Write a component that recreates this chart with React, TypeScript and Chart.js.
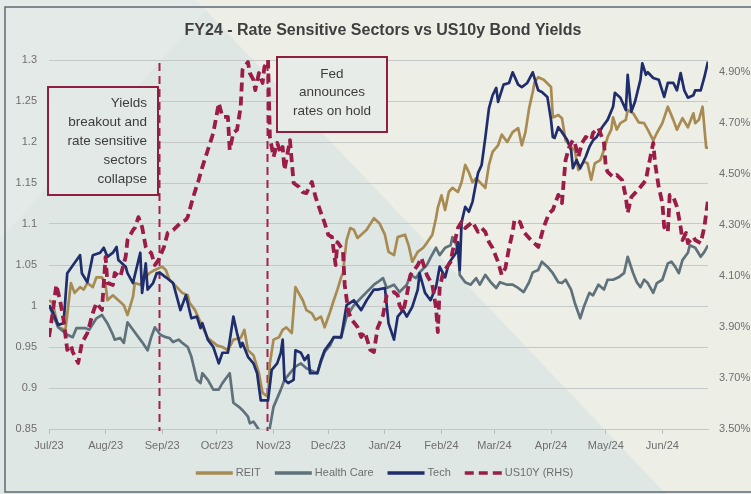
import React, { useEffect, useRef } from 'react';
import { Chart, registerables } from 'chart.js';

Chart.register(...registerables);

const TITLE = 'FY24 - Rate Sensitive Sectors vs US10y Bond Yields';

// x positions are days since 1 Jul 2023
const MONTH_DAYS = [0, 31, 62, 92, 123, 153, 184, 215, 244, 275, 305, 336];
const MONTH_LABELS = ['Jul/23', 'Aug/23', 'Sep/23', 'Oct/23', 'Nov/23', 'Dec/23', 'Jan/24', 'Feb/24', 'Mar/24', 'Apr/24', 'May/24', 'Jun/24'];
const LEFT_TICKS = [0.85, 0.9, 0.95, 1, 1.05, 1.1, 1.15, 1.2, 1.25, 1.3];
const RIGHT_TICKS = [3.5, 3.7, 3.9, 4.1, 4.3, 4.5, 4.7, 4.9];
const EVENT_DAYS = [60.5, 119.5];
const NOTE_1 = ['Yields', 'breakout and', 'rate sensitive', 'sectors', 'collapse'];
const NOTE_2 = ['Fed', 'announces', 'rates on hold'];

const REIT: [number, number][] = [
  [0, 1.007], [2, 1.004], [5, 0.974], [9, 0.971], [12, 1.028], [14, 1.016], [17, 1.023], [19, 1.02], [21, 1.028], [24, 1.023],
  [26, 1.035], [29, 1.035], [31, 1.026], [32, 1.007], [35, 1.013], [38, 1.007], [41, 1.001], [43, 0.989], [46, 1.011], [47, 1.028],
  [50, 1.026], [53, 1.035], [55, 1.04], [58, 1.044], [62, 1.048], [64, 1.044], [66, 1.032], [70, 1.023], [73, 1.016], [76, 1.013],
  [77, 1.004], [80, 0.995], [83, 0.98], [87, 0.961], [92, 0.952], [95, 0.95], [98, 0.946], [101, 0.959], [105, 0.961], [107, 0.971],
  [109, 0.946], [112, 0.94], [115, 0.918], [117, 0.894], [120, 0.889], [121, 0.93], [123, 0.959], [126, 0.962], [128, 0.971], [130, 0.974],
  [133, 0.967], [135, 1.023], [138, 1.011], [139, 1.007], [141, 0.995], [144, 0.991], [146, 0.983], [149, 0.987], [151, 0.974], [154, 0.993],
  [156, 1.007], [158, 1.02], [160, 1.035], [161, 1.04], [163, 1.08], [165, 1.095], [167, 1.093], [169, 1.083], [171, 1.087], [174, 1.093],
  [178, 1.107], [181, 1.101], [184, 1.087], [186, 1.066], [189, 1.062], [191, 1.084], [195, 1.087], [197, 1.074], [199, 1.054], [201, 1.062],
  [202, 1.066], [205, 1.071], [207, 1.077], [210, 1.087], [212, 1.107], [213, 1.12], [215, 1.135], [217, 1.117], [219, 1.139], [221, 1.144],
  [224, 1.139], [226, 1.151], [228, 1.172], [230, 1.163], [232, 1.151], [234, 1.156], [236, 1.151], [239, 1.144], [241, 1.172], [243, 1.188],
  [246, 1.196], [248, 1.209], [251, 1.2], [254, 1.212], [257, 1.217], [259, 1.196], [261, 1.212], [263, 1.241], [265, 1.261], [266, 1.273],
  [268, 1.279], [271, 1.276], [275, 1.267], [276, 1.23], [279, 1.233], [281, 1.229], [283, 1.202], [286, 1.194], [288, 1.19], [290, 1.166],
  [293, 1.176], [295, 1.174], [297, 1.154], [299, 1.174], [302, 1.178], [304, 1.19], [306, 1.206], [308, 1.215], [309, 1.23], [311, 1.215],
  [313, 1.223], [316, 1.227], [317, 1.239], [320, 1.235], [323, 1.224], [326, 1.223], [328, 1.215], [331, 1.202], [333, 1.211], [336, 1.223],
  [339, 1.243], [342, 1.227], [344, 1.215], [347, 1.229], [350, 1.218], [353, 1.235], [354, 1.223], [356, 1.227], [358, 1.243], [360, 1.193],
  [361, 1.193],
];

const HEALTH_CARE: [number, number][] = [
  [0, 1.001], [5, 0.974], [10, 0.965], [13, 0.962], [15, 0.973], [20, 0.973], [22, 0.971], [26, 0.985], [29, 0.989], [32, 0.979],
  [35, 0.965], [36, 0.959], [39, 0.961], [41, 0.955], [43, 0.98], [46, 0.971], [48, 0.965], [51, 0.956], [54, 0.946], [56, 0.962],
  [58, 0.974], [61, 0.965], [64, 0.962], [66, 0.961], [68, 0.956], [71, 0.959], [73, 0.955], [76, 0.95], [78, 0.938], [81, 0.91],
  [83, 0.906], [84, 0.918], [87, 0.91], [90, 0.898], [93, 0.898], [95, 0.906], [99, 0.918], [101, 0.882], [104, 0.877], [106, 0.873],
  [109, 0.865], [110, 0.857], [112, 0.859], [115, 0.849], [117, 0.835], [120, 0.838], [121, 0.852], [123, 0.877], [127, 0.898], [129, 0.91],
  [132, 0.918], [135, 0.926], [138, 0.93], [141, 0.924], [143, 0.922], [147, 0.918], [149, 0.932], [151, 0.944], [154, 0.952], [156, 0.962],
  [160, 0.961], [163, 0.987], [167, 1.001], [171, 1.01], [174, 1.017], [178, 1.026], [180, 1.029], [183, 1.034], [185, 1.022], [189, 1.026],
  [192, 1.017], [196, 1.026], [198, 1.038], [201, 1.034], [203, 1.041], [207, 1.05], [209, 1.059], [212, 1.071], [214, 1.062], [217, 1.071],
  [220, 1.074], [221, 1.084], [224, 1.071], [225, 1.038], [228, 1.029], [231, 1.026], [234, 1.034], [236, 1.026], [239, 1.038], [242, 1.029],
  [245, 1.022], [247, 1.029], [251, 1.026], [254, 1.026], [257, 1.022], [260, 1.017], [263, 1.029], [265, 1.041], [268, 1.044], [270, 1.054],
  [273, 1.048], [276, 1.04], [279, 1.029], [281, 1.028], [283, 1.032], [286, 1.02], [288, 1.004], [291, 0.985], [293, 0.999], [296, 1.016],
  [298, 1.013], [301, 1.026], [304, 1.02], [306, 1.032], [309, 1.032], [312, 1.035], [315, 1.04], [317, 1.06], [320, 1.04], [322, 1.029],
  [324, 1.023], [326, 1.032], [328, 1.028], [331, 1.016], [333, 1.028], [336, 1.032], [339, 1.052], [341, 1.054], [343, 1.048], [345, 1.04],
  [347, 1.056], [350, 1.065], [351, 1.074], [354, 1.071], [357, 1.06], [359, 1.066], [361, 1.074],
];

const TECH: [number, number][] = [
  [0, 1.001], [2, 0.993], [5, 0.977], [8, 0.979], [10, 1.04], [17, 1.062], [18, 1.04], [21, 1.029], [24, 1.062], [28, 1.065],
  [30, 1.071], [32, 1.06], [35, 1.065], [37, 1.072], [38, 1.056], [42, 1.048], [43, 1.04], [46, 1.028], [50, 1.065], [51, 1.016],
  [53, 1.052], [54, 1.02], [57, 1.028], [59, 1.04], [61, 1.04], [64, 1.035], [68, 1.028], [72, 0.995], [75, 1.013], [78, 0.985],
  [81, 0.987], [83, 0.973], [84, 0.979], [87, 0.959], [90, 0.95], [93, 0.93], [95, 0.943], [98, 0.943], [101, 0.987], [103, 0.967],
  [105, 0.95], [106, 0.955], [109, 0.938], [112, 0.93], [114, 0.918], [116, 0.885], [117, 0.885], [120, 0.885], [122, 0.922], [125, 0.93],
  [127, 0.943], [128, 0.959], [129, 0.91], [131, 0.906], [134, 0.91], [135, 0.946], [138, 0.943], [140, 0.934], [142, 0.94], [143, 0.918],
  [147, 0.918], [149, 0.934], [151, 0.946], [154, 0.955], [156, 0.962], [160, 0.962], [161, 0.974], [163, 1.001], [167, 1.007], [171, 0.995],
  [174, 1.007], [178, 1.02], [180, 1.02], [184, 1.022], [186, 0.979], [189, 0.959], [191, 0.987], [194, 0.995], [196, 0.987], [199, 0.999],
  [202, 1.02], [203, 1.04], [206, 1.016], [209, 1.007], [212, 1.023], [214, 1.048], [217, 1.035], [219, 1.052], [223, 1.065], [224, 1.078],
  [225, 1.044], [226, 1.102], [228, 1.121], [230, 1.115], [232, 1.127], [234, 1.151], [235, 1.162], [237, 1.172], [239, 1.205], [241, 1.241],
  [243, 1.257], [245, 1.266], [246, 1.249], [249, 1.27], [252, 1.272], [254, 1.285], [257, 1.27], [259, 1.267], [262, 1.272], [265, 1.285],
  [268, 1.263], [270, 1.261], [273, 1.255], [275, 1.227], [276, 1.206], [277, 1.205], [279, 1.218], [281, 1.212], [284, 1.202], [286, 1.19],
  [287, 1.168], [289, 1.178], [291, 1.168], [294, 1.182], [296, 1.194], [298, 1.202], [300, 1.206], [303, 1.218], [306, 1.227], [309, 1.243],
  [310, 1.26], [313, 1.254], [316, 1.239], [317, 1.282], [319, 1.237], [321, 1.249], [324, 1.276], [325, 1.296], [327, 1.282], [328, 1.285],
  [331, 1.278], [334, 1.276], [337, 1.255], [339, 1.272], [342, 1.272], [344, 1.263], [346, 1.284], [348, 1.263], [350, 1.254], [353, 1.257],
  [354, 1.263], [357, 1.263], [359, 1.279], [361, 1.298],
];

const US10Y: [number, number][] = [
  [0, 3.861], [2, 3.955], [4, 4.065], [6, 4.006], [8, 3.927], [10, 3.81], [12, 3.829], [13, 3.802], [16, 3.759], [18, 3.837],
  [21, 3.876], [24, 3.955], [26, 3.994], [29, 3.967], [31, 4.175], [32, 4.073], [35, 4.065], [36, 4.112], [39, 4.096], [42, 4.175],
  [43, 4.241], [46, 4.28], [47, 4.288], [49, 4.331], [51, 4.292], [53, 4.214], [54, 4.202], [56, 4.19], [58, 4.143], [60, 4.163],
  [63, 4.214], [65, 4.269], [68, 4.28], [72, 4.308], [75, 4.32], [76, 4.331], [79, 4.41], [82, 4.476], [84, 4.527], [87, 4.594],
  [90, 4.661], [93, 4.778], [95, 4.724], [98, 4.724], [99, 4.594], [101, 4.661], [103, 4.673], [105, 4.763], [106, 4.908], [109, 4.939],
  [110, 4.896], [112, 4.869], [113, 4.829], [115, 4.896], [117, 4.857], [118, 4.92], [120, 4.947], [121, 4.645], [123, 4.567], [125, 4.622],
  [127, 4.582], [128, 4.606], [129, 4.516], [132, 4.633], [134, 4.465], [137, 4.449], [139, 4.429], [141, 4.425], [144, 4.469], [146, 4.41],
  [149, 4.347], [151, 4.308], [153, 4.261], [155, 4.253], [157, 4.143], [158, 4.233], [161, 4.202], [162, 4.065], [164, 3.959], [166, 3.927],
  [169, 3.9], [171, 3.861], [173, 3.88], [176, 3.81], [178, 3.802], [180, 3.896], [183, 3.947], [185, 4.025], [189, 4.037], [191, 4.025],
  [192, 3.986], [194, 3.959], [196, 4.025], [198, 4.104], [202, 4.143], [204, 4.171], [207, 4.104], [210, 4.065], [212, 3.975], [213, 3.88],
  [214, 4.053], [216, 4.116], [220, 4.155], [221, 4.194], [224, 4.288], [226, 4.312], [228, 4.288], [230, 4.3], [232, 4.312], [235, 4.273],
  [237, 4.288], [239, 4.273], [241, 4.233], [243, 4.21], [246, 4.155], [248, 4.104], [250, 4.131], [252, 4.21], [254, 4.273], [255, 4.32],
  [258, 4.312], [260, 4.273], [264, 4.241], [268, 4.214], [271, 4.292], [274, 4.347], [276, 4.359], [279, 4.418], [281, 4.386], [282, 4.476],
  [283, 4.555], [285, 4.606], [287, 4.633], [288, 4.622], [290, 4.567], [292, 4.622], [294, 4.645], [297, 4.633], [298, 4.661], [301, 4.68],
  [304, 4.622], [305, 4.527], [306, 4.508], [309, 4.488], [311, 4.496], [314, 4.476], [316, 4.41], [317, 4.347], [319, 4.41], [321, 4.425],
  [324, 4.449], [327, 4.476], [328, 4.516], [331, 4.622], [332, 4.543], [334, 4.449], [336, 4.386], [337, 4.292], [339, 4.273], [340, 4.418],
  [342, 4.41], [344, 4.371], [346, 4.292], [347, 4.241], [349, 4.269], [350, 4.229], [353, 4.253], [354, 4.241], [357, 4.229], [359, 4.292],
  [361, 4.398],
];

const FONT = "'Liberation Sans', Arial, sans-serif";
const TICK_COLOR = '#6e6e6e';

const decorPlugin = {
  id: 'decor',
  beforeDraw(chart: any) {
    const { ctx, width, height } = chart;
    ctx.save();
    ctx.fillStyle = '#dfe7e5';
    ctx.fillRect(0, 0, width, height);
    ctx.fillStyle = '#e4eae7';
    ctx.beginPath();
    ctx.moveTo(0, 0);
    ctx.lineTo(215, 0);
    ctx.lineTo(0, 240);
    ctx.closePath();
    ctx.fill();
    ctx.fillStyle = '#edeee6';
    ctx.beginPath();
    ctx.moveTo(196, 0);
    ctx.lineTo(width, 0);
    ctx.lineTo(width, height);
    ctx.lineTo(666, height);
    ctx.closePath();
    ctx.fill();
    ctx.strokeStyle = '#5b6b74';
    ctx.lineWidth = 1.5;
    ctx.beginPath();
    ctx.moveTo(width, 7);
    ctx.lineTo(5, 7);
    ctx.lineTo(5, 492);
    ctx.lineTo(width, 492);
    ctx.stroke();
    ctx.fillStyle = '#3f3f3f';
    ctx.font = `bold 16px ${FONT}`;
    ctx.textAlign = 'center';
    ctx.textBaseline = 'middle';
    ctx.fillText(TITLE, 383, 31);
    ctx.restore();
  },
  beforeDatasetsDraw(chart: any) {
    const { ctx } = chart;
    const xs = chart.scales.x;
    ctx.save();
    ctx.strokeStyle = '#a0234b';
    ctx.lineWidth = 2;
    ctx.setLineDash([8, 5]);
    EVENT_DAYS.forEach((d) => {
      const px = Math.round(xs.getPixelForValue(d)) + 0.5;
      ctx.beginPath();
      ctx.moveTo(px, chart.chartArea.top + 3);
      ctx.lineTo(px, chart.chartArea.bottom + 2);
      ctx.stroke();
    });
    ctx.restore();
  },
  afterDatasetsDraw(chart: any) {
    const { ctx } = chart;
    ctx.save();
    const drawBox = (x: number, y: number, w: number, h: number, fill: string) => {
      ctx.fillStyle = fill;
      ctx.fillRect(x, y, w, h);
      ctx.strokeStyle = '#8e1f3f';
      ctx.lineWidth = 2;
      ctx.setLineDash([]);
      ctx.strokeRect(x, y, w, h);
    };
    drawBox(48, 87, 110, 108, '#e3e9e7');
    drawBox(277, 57, 110, 75, '#e8ece8');
    ctx.fillStyle = '#3c3c3c';
    ctx.font = `13.5px ${FONT}`;
    ctx.textBaseline = 'middle';
    ctx.textAlign = 'right';
    NOTE_1.forEach((t, i) => ctx.fillText(t, 147, 103 + i * 19));
    ctx.textAlign = 'center';
    NOTE_2.forEach((t, i) => ctx.fillText(t, 332, 74 + i * 18.5));
    ctx.restore();
  },
  afterDraw(chart: any) {
    const { ctx } = chart;
    const ds = chart.data.datasets;
    ctx.save();
    ctx.font = `11px ${FONT}`;
    ctx.textBaseline = 'middle';
    ctx.textAlign = 'left';
    const lineLen = 37;
    const gapText = 3;
    const gapItem = 14;
    const widths = ds.map((d: any) => ctx.measureText(d.label).width);
    const total = widths.reduce((a: number, w: number) => a + lineLen + gapText + w, 0) + gapItem * (ds.length - 1);
    let x = 384.5 - total / 2;
    const y = 473;
    ds.forEach((d: any, i: number) => {
      ctx.strokeStyle = d.borderColor;
      ctx.lineWidth = 3.5;
      ctx.setLineDash(d.borderDash ? [9, 5] : []);
      ctx.beginPath();
      ctx.moveTo(x, y);
      ctx.lineTo(x + lineLen, y);
      ctx.stroke();
      ctx.setLineDash([]);
      ctx.fillStyle = TICK_COLOR;
      ctx.fillText(d.label, x + lineLen + gapText, y);
      x += lineLen + gapText + widths[i] + gapItem;
    });
    ctx.restore();
  },
};

const toXY = (pts: [number, number][]) => pts.map(([x, y]) => ({ x, y }));

export default function App() {
  const ref = useRef<HTMLCanvasElement | null>(null);

  useEffect(() => {
    document.body.style.margin = '0';
    if (!ref.current) return;
    const common = { pointRadius: 0, pointHoverRadius: 0, tension: 0, fill: false, borderJoinStyle: 'round' as const };
    const chart = new Chart(ref.current, {
      type: 'line',
      data: {
        datasets: [
          { ...common, label: 'REIT', data: toXY(REIT), borderColor: '#a88b52', borderWidth: 2.7, yAxisID: 'y', order: 3 },
          { ...common, label: 'Health Care', data: toXY(HEALTH_CARE), borderColor: '#5f717a', borderWidth: 2.7, yAxisID: 'y', order: 2 },
          { ...common, label: 'Tech', data: toXY(TECH), borderColor: '#1f2d6c', borderWidth: 2.7, yAxisID: 'y', order: 1 },
          { ...common, label: 'US10Y (RHS)', data: toXY(US10Y), borderColor: '#9b1c46', borderWidth: 3.8, borderDash: [9, 5], yAxisID: 'y1', order: 0 },
        ],
      },
      options: {
        responsive: false,
        animation: false,
        devicePixelRatio: 1,
        layout: { padding: { top: 60, bottom: 35, left: 0, right: 0 } },
        plugins: { legend: { display: false }, title: { display: false }, tooltip: { enabled: false } },
        scales: {
          x: {
            type: 'linear',
            position: 'bottom',
            min: 0,
            max: 361,
            afterBuildTicks: (s: any) => { s.ticks = MONTH_DAYS.map((v) => ({ value: v })); },
            afterFit: (s: any) => { s.height = 30; },
            ticks: {
              autoSkip: false,
              maxRotation: 0,
              padding: 5,
              color: TICK_COLOR,
              font: { size: 11, family: FONT },
              callback: (v: any) => MONTH_LABELS[MONTH_DAYS.indexOf(Number(v))],
            },
            grid: { drawOnChartArea: false, drawTicks: true, tickLength: 5, color: '#b9bebd' },
            border: { display: true, color: '#c2c7c6' },
          },
          y: {
            position: 'left',
            min: 0.85,
            max: 1.3,
            afterBuildTicks: (s: any) => { s.ticks = LEFT_TICKS.map((v) => ({ value: v })); },
            afterFit: (s: any) => { s.width = 49; },
            ticks: {
              padding: 12,
              color: TICK_COLOR,
              font: { size: 11, family: FONT },
              callback: (v: any) => String(Math.round(Number(v) * 100) / 100),
            },
            grid: { color: '#c4c9c8', lineWidth: 1, drawTicks: false },
            border: { display: false },
          },
          y1: {
            position: 'right',
            min: 3.5,
            max: 4.947,
            afterBuildTicks: (s: any) => { s.ticks = RIGHT_TICKS.map((v) => ({ value: v })); },
            afterFit: (s: any) => { s.width = 43; },
            ticks: {
              padding: 11,
              color: TICK_COLOR,
              font: { size: 11, family: FONT },
              callback: (v: any) => Number(v).toFixed(2) + '%',
            },
            grid: { display: false, drawTicks: false },
            border: { display: false },
          },
        },
      },
      plugins: [decorPlugin],
    } as any);
    return () => chart.destroy();
  }, []);

  return (
    <div style={{ width: 751, height: 494 }}>
      <canvas ref={ref} width={751} height={494} style={{ display: 'block' }} />
    </div>
  );
}
